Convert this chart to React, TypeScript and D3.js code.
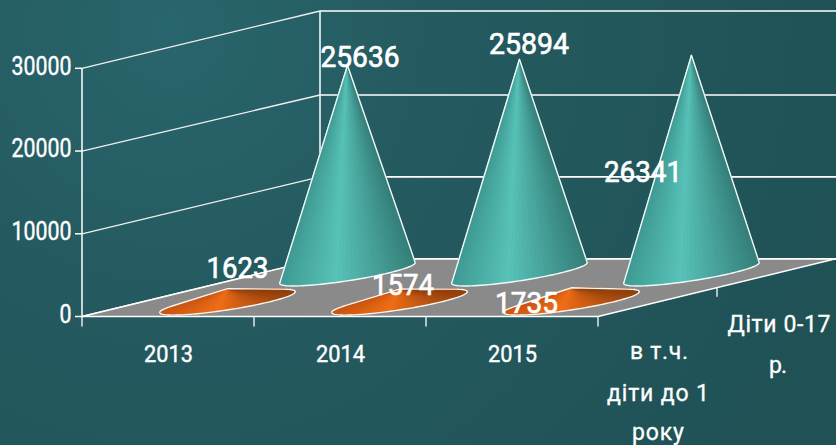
import React from "react";
import * as d3 from "d3";

const categories = ["2013", "2014", "2015"];
const yTicks = [0, 10000, 20000, 30000];
const infantLabels = [1623, 1574, 1735];
const childLabels = [25636, 25894, 26341];
// heights of the tall cones as they are drawn in the picture
const childDrawn = [25100, 25830, 26310];
const depthTickFractions = [0.5];

const W = 836, H = 445;
const x0 = 82, x1 = 598, yBase = 316.5, yTop = 68.3;
const depthDX = 238, depthDY = 57.7;
const FONT = "Roboto, sans-serif";

const xScale = d3.scaleLinear().domain([0, 3]).range([x0, x1]);
const yScale = d3.scaleLinear().domain([0, 30000]).range([yBase, yTop]);
const backScale = d3.scaleLinear().domain([0, 10000, 20000, 30000]).range([258.8, 176.8, 95, 11]);
const depthX = d3.scaleLinear().domain([0, 1]).range([0, depthDX]);
const depthY = d3.scaleLinear().domain([0, 1]).range([0, depthDY]);

const project = (c: number, v: number, d: number): [number, number] => [
  xScale(c) + depthX(d),
  yScale(v) - depthY(d),
];

const line = d3.line<[number, number]>();

type Shade = [string, string, string];
const tealShade: Shade = ["#3e9a93", "#58c2b8", "#357f7a"];
const orangeShade: Shade = ["#cc5610", "#f06d16", "#93400c"];

function Cone({ c, d, value, shade }: { c: number; d: number; value: number; shade: Shade }) {
  const apex = project(c + 0.5, value, d);
  const centre = project(c + 0.5, 0, d);
  const pts: [number, number][] = d3.range(0, 96).map((i) => {
    const t = (i / 96) * Math.PI * 2;
    return [
      centre[0] + 41 * Math.cos(t) + 54 * Math.sin(t),
      centre[1] - 13 * Math.sin(t),
    ];
  });
  const hull = d3.polygonHull([apex, ...pts])!;
  const k = hull.findIndex((p) => p[0] === apex[0] && p[1] === apex[1]);
  const arc = [...hull.slice(k + 1), ...hull.slice(0, k)];
  const xs = d3.extent(arc, (p) => p[0]) as [number, number];
  const col = d3
    .scaleLinear<string>()
    .domain([xs[0], xs[0] + (xs[1] - xs[0]) * 0.42, xs[1]])
    .range(shade);
  return (
    <g>
      {arc.slice(1).map((p, i) => {
        const fill = col((p[0] + arc[i][0]) / 2);
        return (
          <path
            key={i}
            d={line([apex, arc[i], p])! + "Z"}
            fill={fill}
            stroke={fill}
            strokeWidth={1}
          />
        );
      })}
      <path d={line(hull)! + "Z"} fill="none" stroke="#f4f8f7" strokeWidth={1.4} strokeLinejoin="round" />
    </g>
  );
}

function Label({ x, y, size, w, bold = 0.3, adjust = "spacingAndGlyphs", children }: { x: number; y: number; size: number; w: number; bold?: number; adjust?: string; children: React.ReactNode }) {
  return (
    <text
      x={x - w / 2}
      y={y}
      fontFamily={FONT}
      fontSize={size}
      fill="#fff"
      stroke="#fff"
      strokeWidth={bold}
      textLength={w}
      lengthAdjust={adjust}
    >
      {children}
    </text>
  );
}

const tickWidth = (t: number) => String(t).length * 12;

export default function App() {
  const floor = [project(0, 0, 0), project(3, 0, 0), project(3, 0, 1), project(0, 0, 1)] as [number, number][];
  const backY = backScale(0);
  return (
    <svg width={W} height={H} style={{ position: "absolute", left: 0, top: 0, display: "block" }}>
      <defs>
        <radialGradient id="bg" gradientUnits="userSpaceOnUse" cx={170} cy={30} r={720}>
          <stop offset="0" stopColor="#29656d" />
          <stop offset="0.35" stopColor="#245b60" />
          <stop offset="1" stopColor="#1f5155" />
        </radialGradient>
      </defs>
      <rect width={W} height={H} fill="url(#bg)" />

      {yTicks.map((t) => {
        const a = project(0, t, 0);
        const by = backScale(t);
        const bx = x0 + depthDX;
        return (
          <g key={t}>
            <line x1={a[0] - 7} x2={a[0]} y1={a[1]} y2={a[1]} stroke="#fff" strokeWidth={1.5} />
            <line x1={a[0]} y1={a[1]} x2={bx} y2={by} stroke="#f0f0f0" strokeWidth={1.3} />
            <line x1={bx} y1={by} x2={W} y2={by} stroke="#fff" strokeWidth={1.7} />
            <Label x={71.5 - tickWidth(t) / 2} y={a[1] + 6.3} size={25} w={tickWidth(t)} bold={0.4}>
              {t}
            </Label>
          </g>
        );
      })}
      <line x1={x0} x2={x0} y1={yTop} y2={yBase} stroke="#fff" strokeWidth={1.5} />
      <line x1={x0 + depthDX} x2={x0 + depthDX} y1={backScale(30000)} y2={backY} stroke="#fff" strokeWidth={1.5} />

      <path d={line(floor)! + "Z"} fill="#8a8a8a" />
      <path d={line([floor[3], floor[0], floor[1], floor[2]])!} fill="none" stroke="#fff" strokeWidth={1.6} />
      <line x1={floor[3][0]} x2={W} y1={backY} y2={backY} stroke="#fff" strokeWidth={1.7} />

      {d3.range(0, 4).map((i) => (
        <line key={i} x1={xScale(i)} x2={xScale(i)} y1={yBase} y2={yBase + 10} stroke="#fff" strokeWidth={1.3} />
      ))}
      {depthTickFractions.map((f) => {
        const p = project(3, 0, f);
        return <line key={f} x1={p[0]} x2={p[0]} y1={p[1]} y2={p[1] + 9} stroke="#fff" strokeWidth={1.3} />;
      })}

      {childDrawn.map((v, i) => (
        <Cone key={i} c={i} d={0.754} value={v} shade={tealShade} />
      ))}
      {infantLabels.map((v, i) => (
        <Cone key={i} c={i} d={0.25} value={v} shade={orangeShade} />
      ))}

      {categories.map((c, i) => (
        <Label key={c} x={xScale(i + 0.5) + 0.5} y={362} size={24} w={49} bold={0.4}>
          {c}
        </Label>
      ))}

      <Label x={659} y={359} size={23} w={58} adjust="spacing">в т.ч.</Label>
      <Label x={658} y={401} size={23} w={102} adjust="spacing">діти до 1</Label>
      <Label x={658} y={440} size={23} w={52} adjust="spacing">року</Label>
      <Label x={779} y={332} size={23} w={103} adjust="spacing">Діти 0-17</Label>
      <Label x={778} y={373} size={23} w={18} adjust="spacing">р.</Label>

      <Label x={360} y={66.5} size={30} w={79} bold={0.7}>{childLabels[0]}</Label>
      <Label x={529} y={53.5} size={30} w={80} bold={0.7}>{childLabels[1]}</Label>
      <Label x={643} y={181.5} size={30} w={78} bold={0.7}>{childLabels[2]}</Label>
      <Label x={237.5} y={277.5} size={30} w={62} bold={0.7}>{infantLabels[0]}</Label>
      <Label x={403} y={295} size={30} w={62} bold={0.7}>{infantLabels[1]}</Label>
      <Label x={526.5} y={313} size={30} w={63} bold={0.7}>{infantLabels[2]}</Label>
    </svg>
  );
}
